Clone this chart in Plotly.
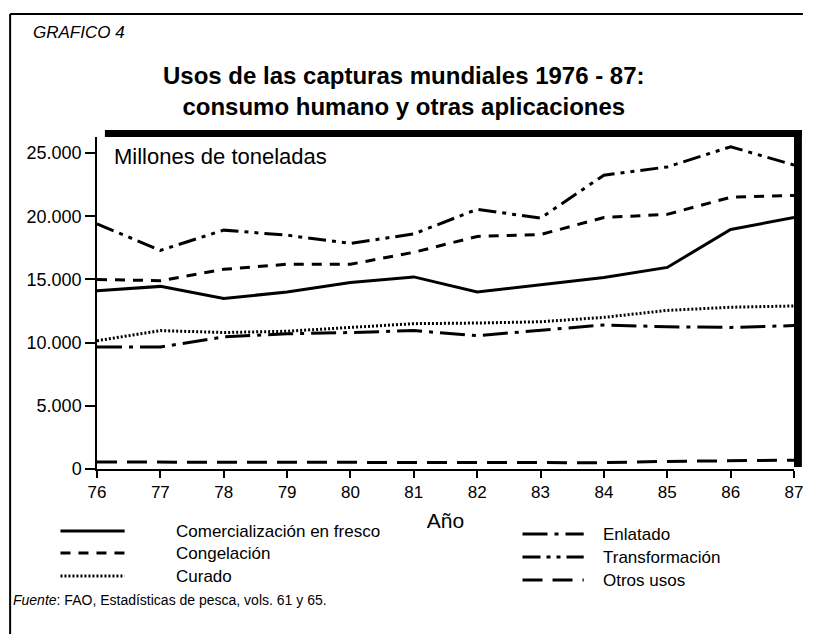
import plotly.graph_objects as go

years = [76, 77, 78, 79, 80, 81, 82, 83, 84, 85, 86, 87]
fresco = [14100, 14450, 13500, 14000, 14750, 15200, 14000, 14600, 15150, 15950, 18950, 19900]
congelacion = [15000, 14900, 15800, 16200, 16200, 17150, 18400, 18550, 19900, 20150, 21500, 21650]
curado = [10150, 10950, 10800, 10900, 11200, 11500, 11550, 11650, 12000, 12550, 12800, 12900]
enlatado = [9650, 9650, 10450, 10700, 10800, 10950, 10550, 10950, 11400, 11250, 11200, 11350]
transformacion = [19400, 17300, 18900, 18500, 17850, 18600, 20550, 19850, 23250, 23900, 25500, 24050]
otros = [550, 550, 550, 550, 550, 550, 500, 500, 500, 600, 650, 700]

names = ["Comercialización en fresco", "Congelación", "Curado",
         "Enlatado", "Transformación", "Otros usos"]
series = [fresco, congelacion, curado, enlatado, transformacion, otros]
dashes = ["solid", "10px,8px", "2px,2px", "25px,7px,4px,7px",
          "18px,6px,4px,6px,4px,6px", "20px,10px"]
widths = [3, 3, 3, 3, 3, 3]

FONT = "Liberation Sans, Arial, sans-serif"
W, H = 813, 634
L, R, T, B = 97, 10, 137, 165
pw, ph = W - L - R, H - T - B

fig = go.Figure()
for n, s, d, w in zip(names, series, dashes, widths):
    fig.add_trace(go.Scatter(x=years, y=s, mode="lines", name=n,
                             line=dict(color="black", width=w, dash=d),
                             showlegend=False))


def px(xp):
    return (xp - L) / pw


def py(yp):
    return (H - B - yp) / ph


shapes = []
# shadow bars (top and right)
shapes.append(dict(type="rect", xref="paper", yref="paper",
                   x0=8 / pw, x1=1 + 8 / pw, y0=1, y1=1 + 7 / ph,
                   fillcolor="black", line=dict(width=0), layer="above"))
shapes.append(dict(type="rect", xref="paper", yref="paper",
                   x0=1, x1=1 + 8 / pw, y0=2 / ph, y1=1 + 7 / ph,
                   fillcolor="black", line=dict(width=0), layer="above"))
# outer frame (top and left)
shapes.append(dict(type="line", xref="paper", yref="paper",
                   x0=px(9), x1=px(812), y0=py(14), y1=py(14),
                   line=dict(color="black", width=2)))
shapes.append(dict(type="line", xref="paper", yref="paper",
                   x0=px(9), x1=px(9), y0=py(14), y1=py(640),
                   line=dict(color="black", width=2)))

annotations = []

# legend samples + text
leg_pos = [(60, 125, 175, 531), (60, 125, 175, 553), (60, 125, 175, 576),
           (528, 590, 608, 534), (528, 590, 608, 557), (528, 590, 608, 580)]
for (x0, x1, xt, yy), n, d in zip(leg_pos, names, dashes):
    shapes.append(dict(type="line", xref="paper", yref="paper",
                       x0=px(x0), x1=px(x1), y0=py(yy), y1=py(yy),
                       line=dict(color="black", width=3, dash=d)))
    annotations.append(dict(text=n, xref="paper", yref="paper",
                            x=px(xt), y=py(yy), xanchor="left", yanchor="middle",
                            showarrow=False, font=dict(family=FONT, size=17, color="black")))

annotations.append(dict(text="<i>GRAFICO 4</i>", xref="paper", yref="paper",
                        x=px(30), y=py(32), xanchor="left", yanchor="middle",
                        showarrow=False, font=dict(family=FONT, size=17, color="black")))
annotations.append(dict(text="<b>Usos de las capturas mundiales 1976 - 87:<br>consumo humano y otras aplicaciones</b>",
                        xref="paper", yref="paper", x=px(408), y=py(91),
                        xanchor="center", yanchor="middle", showarrow=False,
                        font=dict(family=FONT, size=24, color="black")))
annotations.append(dict(text="Millones de toneladas", xref="paper", yref="paper",
                        x=px(112), y=py(156), xanchor="left", yanchor="middle",
                        showarrow=False, font=dict(family=FONT, size=22, color="black")))
annotations.append(dict(text="<i>Fuente</i>: FAO, Estadísticas de pesca, vols. 61 y 65.",
                        xref="paper", yref="paper", x=px(10), y=py(600),
                        xanchor="left", yanchor="middle", showarrow=False,
                        font=dict(family=FONT, size=14, color="black")))

fig.update_layout(
    width=W, height=H,
    margin=dict(l=L, r=R, t=T, b=B, pad=0),
    paper_bgcolor="white", plot_bgcolor="white",
    separators=",.",
    font=dict(family=FONT, color="black"),
    shapes=shapes, annotations=annotations,
    xaxis=dict(range=[76, 87], tickvals=years, ticktext=[str(y) for y in years],
               showgrid=False, zeroline=False, showline=True, linecolor="black",
               linewidth=1.5, ticks="outside", ticklen=7, tickwidth=1.5,
               tickcolor="black", tickfont=dict(size=17, family=FONT),
               title=dict(text="Año", font=dict(size=21, family=FONT), standoff=12)),
    yaxis=dict(range=[0, 26270], tickvals=[0, 5000, 10000, 15000, 20000, 25000],
               tickformat=",d", showgrid=False, zeroline=False, showline=True,
               linecolor="black", linewidth=1.5, ticks="outside", ticklen=10,
               tickwidth=1.5, tickcolor="black",
               tickfont=dict(size=18, family=FONT)),
)

fig.write_html("out.html", config={"displayModeBar": False},
               post_script="document.body.style.margin='0';document.body.style.overflow='hidden';")
